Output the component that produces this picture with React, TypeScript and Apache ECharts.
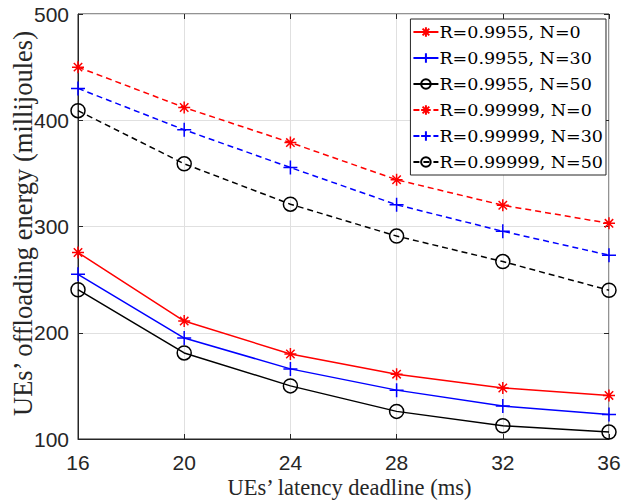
import React, { useEffect, useRef } from "react";
import * as echarts from "echarts";

const xValues = [16, 20, 24, 28, 32, 36];
const yTicks = [100, 200, 300, 400, 500];
const seriesNames = [
  "R=0.9955, N=0",
  "R=0.9955, N=30",
  "R=0.9955, N=50",
  "R=0.99999, N=0",
  "R=0.99999, N=30",
  "R=0.99999, N=50",
];
const r9955N0 = [275.5, 211, 180, 161, 148, 141];
const r9955N30 = [255, 195, 166, 146, 131, 123];
const r9955N50 = [240.5, 181, 150, 126, 112.5, 106.5];
const r99999N0 = [450, 412, 379, 344, 320, 303];
const r99999N30 = [430, 391, 355.5, 320.5, 295.5, 273];
const r99999N50 = [409, 359, 321, 291, 267, 240];

const seriesValues = [r9955N0, r9955N30, r9955N50, r99999N0, r99999N30, r99999N50];
const colors = ["#ff0000", "#0000ff", "#000000", "#ff0000", "#0000ff", "#000000"];
const lineTypes = ["solid", "solid", "solid", "dashed", "dashed", "dashed"];

const ASTERISK = "path://M0,-1L0,1M-1,0L1,0M-0.7,-0.7L0.7,0.7M-0.7,0.7L0.7,-0.7";
const PLUS = "path://M0,-1L0,1M-1,0L1,0";
const CIRCLE = "path://M1,0A1,1,0,1,1,-1,0A1,1,0,1,1,1,0Z";
const symbols = [ASTERISK, PLUS, CIRCLE, ASTERISK, PLUS, CIRCLE];
const symbolSizes = [12, 14, 14, 12, 14, 14];

export default function App() {
  const ref = useRef<HTMLDivElement>(null);
  useEffect(() => {
    document.body.style.margin = "0";
    const chart = echarts.init(ref.current!, undefined, { renderer: "svg" });
    const axisColor = "#262626";
    const gridColor = "#e0e0e0";
    const tickFont = { fontFamily: "Liberation Sans", fontSize: 21, color: axisColor };
    const tickOnly = {
      axisLine: { show: false },
      axisTick: { show: true, inside: true, length: 5, lineStyle: { color: axisColor } },
      axisLabel: { show: false },
      splitLine: { show: false },
    };
    chart.setOption({
      animation: false,
      backgroundColor: "#ffffff",
      grid: {
        left: 78,
        right: 15,
        top: 14,
        bottom: 65,
        outerBoundsMode: "none",
        containLabel: false,
        show: true,
        borderColor: axisColor,
        borderWidth: 1,
        backgroundColor: "#ffffff",
      },
      legend: {
        data: seriesNames,
        orient: "vertical",
        right: 18,
        top: 19,
        backgroundColor: "#ffffff",
        borderColor: axisColor,
        borderWidth: 1,
        borderRadius: 0,
        padding: [4, 3, 4, 2],
        itemGap: 8,
        itemWidth: 25,
        itemHeight: 12,
        textStyle: { fontFamily: "DejaVu Serif", fontSize: 17.5, color: "#000000", padding: [0, 0, 0, -4] },
      },
      xAxis: [
        {
          type: "value",
          min: 16,
          max: 36,
          interval: 4,
          name: "UEs’ latency deadline (ms)",
          nameLocation: "middle",
          nameGap: 37,
          nameMoveOverlap: false,
          nameTextStyle: { fontFamily: "Liberation Serif", fontSize: 22.5, color: axisColor, padding: [0, 0, 0, 12] },
          axisLine: { show: true, lineStyle: { color: axisColor, width: 1 } },
          axisTick: { show: true, inside: true, length: 5, lineStyle: { color: axisColor } },
          axisLabel: { ...tickFont, margin: 13 },
          splitLine: { show: true, lineStyle: { color: gridColor, width: 1 } },
        },
        { type: "value", position: "top", min: 16, max: 36, interval: 4, ...tickOnly },
      ],
      yAxis: [
        {
          type: "value",
          min: yTicks[0],
          max: yTicks[yTicks.length - 1],
          interval: 100,
          name: "UEs’ offloading energy (millijoules)",
          nameLocation: "middle",
          nameGap: 42,
          nameMoveOverlap: false,
          nameTextStyle: { fontFamily: "Liberation Serif", fontSize: 26.5, color: axisColor, padding: [0, 0, 0, 6] },
          axisLine: { show: true, lineStyle: { color: axisColor, width: 1 } },
          axisTick: { show: true, inside: true, length: 5, lineStyle: { color: axisColor } },
          axisLabel: { ...tickFont, margin: 9 },
          splitLine: { show: true, lineStyle: { color: gridColor, width: 1 } },
        },
        {
          type: "value",
          position: "right",
          min: yTicks[0],
          max: yTicks[yTicks.length - 1],
          interval: 100,
          ...tickOnly,
        },
      ],
      series: seriesNames.map((name, i) => ({
        name,
        type: "line",
        xAxisIndex: 0,
        yAxisIndex: 0,
        data: xValues.map((x, j) => [x, seriesValues[i][j]]),
        symbol: symbols[i],
        symbolSize: symbolSizes[i],
        showAllSymbol: true,
        lineStyle: { color: colors[i], width: 1.5, type: lineTypes[i] === "dashed" ? [6, 4] : "solid" },
        itemStyle: {
          color: symbols[i] === CIRCLE ? "rgba(0,0,0,0)" : colors[i],
          borderColor: colors[i],
          borderWidth: 1.5,
        },
        emphasis: { disabled: true },
        z: 2,
      })),
    });
    return () => chart.dispose();
  }, []);
  return <div ref={ref} style={{ width: 624, height: 504 }} />;
}
